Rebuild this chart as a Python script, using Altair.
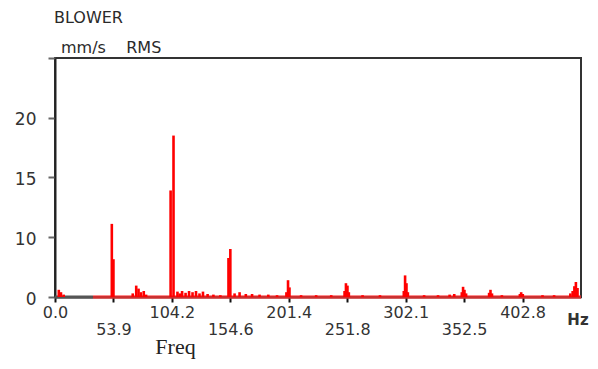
import altair as alt
import pandas as pd

# ---- data (Hz, mm/s RMS) ----
freq = [3.5, 5.5, 8.0,
        52.4, 53.9,
        70.5, 73.5, 75.5, 77.5, 80.0, 82.0,
        103.1, 105.6,
        109.0, 111.0, 113.0, 116.0, 119.0, 122.0, 125.0, 128.0, 131.0, 135.0, 140.0, 146.0,
        153.0, 154.6,
        158.0, 162.0, 167.0, 172.0, 178.0, 185.0, 192.0,
        199.5, 200.8, 202.0,
        212.0, 225.0, 238.0,
        249.5, 250.7, 252.0, 253.2,
        265.0, 280.0,
        300.5, 301.6, 302.8, 304.0,
        318.0, 330.0, 340.0, 344.0,
        350.5, 351.6, 352.8, 354.2,
        374.0, 375.2, 376.5, 385.0,
        400.5, 401.6, 403.0,
        420.0, 430.0,
        444.0, 446.0, 447.5, 448.8, 450.2]
amp = [1.2, 0.8, 0.4,
       11.1, 6.3,
       0.6, 1.9, 1.4, 0.8, 1.0, 0.4,
       13.9, 18.5,
       0.9, 0.6, 1.0, 0.7, 1.0, 0.8, 1.0, 0.6, 0.9, 0.5, 0.4, 0.3,
       6.5, 8.0,
       0.6, 0.8, 0.5, 0.5, 0.4, 0.4, 0.3,
       0.8, 2.8, 1.6,
       0.3, 0.3, 0.3,
       1.0, 2.3, 1.9, 0.8,
       0.3, 0.3,
       1.0, 3.6, 2.3, 0.8,
       0.3, 0.3, 0.4, 0.5,
       0.8, 1.7, 1.2, 0.6,
       0.7, 1.2, 0.6, 0.3,
       0.5, 0.8, 0.5,
       0.3, 0.3,
       0.6, 1.0, 1.8, 2.5, 1.5]

x_ticks = [0.0, 53.9, 104.2, 154.6, 201.4, 251.8, 302.1, 352.5, 402.8]
low_row = [53.9, 154.6, 251.8, 352.5]
x_end = 453.2
y_ticks = [0, 10, 15, 20, 25]
y_knots = [0, 10, 25]

title_txt = ["BLOWER"]
unit_txt = ["mm/s\u00a0\u00a0\u00a0 RMS"]
hz_txt = ["Hz"]
freq_txt = ["Freq"]

W, H = 526, 239
xscale = alt.Scale(domain=x_ticks + [x_end], range=[W * i / 9 for i in range(10)])
yscale = alt.Scale(domain=y_knots, range=[H, H - 60, 0])

low_list = ",".join(str(v) for v in low_row)
xaxis = alt.Axis(values=x_ticks, format=".1f", title=None, grid=False,
                 labelExpr=f"indexof([{low_list}], datum.value) >= 0 ? ['', datum.label] : datum.label",
                 labelFont="DejaVu Sans", labelFontSize=16, labelColor="#333",
                 labelLineHeight=17, labelBaseline="top", labelPadding=2,
                 labelOverlap=False, labelFlush=False, labelBound=False,
                 tickColor="#111", tickSize=5, tickWidth=2,
                 domainColor="#333", domainWidth=2)
yaxis = alt.Axis(values=y_ticks, title=None, grid=False,
                 labelExpr="datum.value == 25 ? '' : datum.label",
                 labelFont="DejaVu Sans", labelFontSize=17, labelColor="#333",
                 labelPadding=12, labelOffset=2, labelOverlap=False,
                 tickColor="#666", tickSize=7, tickWidth=2,
                 domainColor="#222", domainWidth=2)

spec = pd.DataFrame({"f": freq, "a": amp})

bars = alt.Chart(spec).mark_rule(color="#ff0000", strokeWidth=2.6).encode(
    x=alt.X("f:Q", scale=xscale, axis=xaxis),
    y=alt.Y("a:Q", scale=yscale, axis=yaxis),
    y2=alt.datum(0),
)

base_df = pd.DataFrame({"f": [35.0], "f2": [x_end], "a": [0.0]})
baseline = alt.Chart(base_df).mark_rule(color="#ff3030", strokeWidth=3.5, opacity=0.75).encode(
    x=alt.X("f:Q", scale=xscale, axis=xaxis), x2="f2",
    y=alt.Y("a:Q", scale=yscale, axis=yaxis),
)
grey_df = pd.DataFrame({"f": [0.0], "f2": [35.0], "a": [0.0]})
greyseg = alt.Chart(grey_df).mark_rule(color="#555555", strokeWidth=3).encode(
    x=alt.X("f:Q", scale=xscale, axis=xaxis), x2="f2",
    y=alt.Y("a:Q", scale=yscale, axis=yaxis),
)


def label(txt, x, y, **kw):
    return alt.Chart(pd.DataFrame({"t": txt})).mark_text(**kw).encode(
        x=alt.value(x), y=alt.value(y), text="t:N")


t1 = label(title_txt, -1, -34.7, align="left", baseline="alphabetic",
           font="DejaVu Sans", fontSize=16, color="#2a2a2a")
t2 = label(unit_txt, 6, -4.7, align="left", baseline="alphabetic",
           font="DejaVu Sans", fontSize=16, color="#2a2a2a")
t3 = label(hz_txt, 523, 267, align="center", baseline="alphabetic",
           font="DejaVu Sans", fontSize=15, fontWeight="bold", color="#333")
t4 = label(freq_txt, 120.5, 296, align="center", baseline="alphabetic",
           font="Liberation Serif", fontSize=22, color="#222")

chart = alt.layer(greyseg, baseline, bars, t1, t2, t3, t4).properties(
    width=W, height=H,
    autosize=alt.AutoSizeParams(type="none"),
    padding={"left": 47, "top": 50, "right": 9, "bottom": 64},
    background="white",
).configure_view(stroke="#333", strokeWidth=2)

chart.save("out.html", embed_options={"renderer": "svg", "actions": False})
